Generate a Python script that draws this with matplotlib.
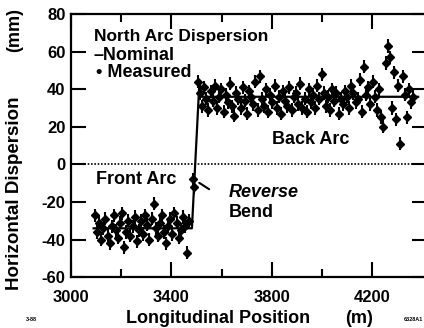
import matplotlib.pyplot as plt

plt.rcParams['font.family'] = ['Liberation Sans', 'DejaVu Sans']
plt.rcParams['font.weight'] = 'bold'
plt.rcParams['axes.unicode_minus'] = False

# === measured dispersion, front arc (m, mm) ===
front_s = [3096, 3104, 3112, 3121, 3129, 3137, 3146, 3154, 3162, 3171,
           3179, 3187, 3196, 3204, 3212, 3221, 3229, 3237, 3246, 3254,
           3262, 3271, 3279, 3287, 3296, 3304, 3312, 3321, 3329, 3337,
           3346, 3354, 3362, 3371, 3379, 3387, 3396, 3404, 3412, 3421,
           3429, 3437, 3446, 3454, 3462, 3470]
front_d = [-27, -36, -31, -40, -34, -29, -38, -42, -33, -27,
           -35, -39, -31, -26, -44, -36, -30, -38, -33, -28,
           -41, -35, -30, -37, -27, -32, -40, -29, -21, -34,
           -38, -31, -27, -36, -42, -33, -29, -37, -26, -31,
           -39, -35, -28, -33, -47, -30]

# reverse bend points
bend_s = [3486, 3491]
bend_d = [-8, -12]

# === back arc ===
back_s = [3506, 3514, 3523, 3531, 3540, 3548, 3557, 3565, 3574, 3582,
          3591, 3599, 3608, 3616, 3625, 3633, 3642, 3650, 3659, 3667,
          3676, 3684, 3693, 3701, 3710, 3718, 3727, 3735, 3744, 3752,
          3761, 3769, 3778, 3786, 3795, 3803, 3812, 3820, 3829, 3837,
          3846, 3854, 3863, 3871, 3880, 3888, 3897, 3905, 3914, 3922,
          3931, 3939, 3948, 3956, 3965, 3973, 3982, 3990, 3999, 4007,
          4016, 4024, 4033, 4041, 4050, 4058, 4067, 4075, 4084, 4092,
          4101, 4109, 4118, 4126, 4135, 4143, 4152, 4160, 4169, 4177,
          4186, 4194, 4203, 4211, 4220, 4228, 4237, 4245, 4254, 4262,
          4271, 4279, 4288, 4296, 4305, 4313, 4322, 4330, 4339, 4347,
          4356, 4364]
back_d = [44, 38, 31, 41, 35, 29, 39, 34, 42, 30,
          36, 40, 28, 37, 33, 43, 31, 26, 38, 35,
          30, 41, 34, 27, 39, 36, 32, 44, 29, 47,
          35, 31, 40, 28, 37, 33, 42, 30, 36, 27,
          39, 34, 31, 41, 29, 36, 38, 32, 43, 30,
          35, 28, 40, 33, 37, 30, 42, 35, 48, 38,
          31, 36, 29, 40, 34, 38, 27, 35, 32, 39,
          36, 30, 42, 38, 33, 35, 45, 28, 52, 37,
          41, 32, 44, 36, 29, 40, 25, 20, 54, 63,
          57, 30, 49, 24, 42, 11, 47, 37, 25, 40,
          33, 36]
err = 3.5

# === nominal dispersion ===
nom_s = [3090, 3482, 3512, 3520, 4384]
nom_d = [-34, -34, 44, 36, 36]

fig = plt.figure(figsize=(4.24, 3.28), dpi=100)
ax = fig.add_axes([0.1675, 0.155, 0.84, 0.802])

ax.plot(nom_s, nom_d, color='black', lw=1.6)
for s, d in [(front_s, front_d), (bend_s, bend_d), (back_s, back_d)]:
    ax.errorbar(s, d, yerr=err, fmt='D', ms=4, color='black',
                elinewidth=1.5, capsize=0)
ax.axhline(0, color='black', ls=(0, (1, 1)), lw=1.2)

ax.set_xlim(3000, 4420)
ax.set_ylim(-60, 80)
ax.set_xticks([3000, 3400, 3800, 4200])
ax.set_xticks([3200, 3600, 4000], minor=True)
ax.set_yticks([-60, -40, -20, 0, 20, 40, 60, 80])
ax.tick_params(which='major', direction='in', length=11, width=1.5,
               top=True, right=True, labelsize=12)
ax.tick_params(which='minor', direction='in', length=6, width=1.5,
               top=True, right=True)
ax.tick_params(axis='x', pad=9)
ax.tick_params(axis='y', pad=4)
for sp in ax.spines.values():
    sp.set_linewidth(1.6)

ax.text(3092, 68, 'North Arc Dispersion', fontsize=12.5, va='center')
ax.text(3088, 58, '–Nominal', fontsize=13, va='center')
ax.text(3100, 49, '• Measured', fontsize=13, va='center')
ax.text(3802, 13.5, 'Back Arc', fontsize=13, va='center')
ax.text(3098, -8, 'Front Arc', fontsize=13, va='center')
ax.text(3630, -15, 'Reverse', fontsize=13, style='italic', va='center')
ax.text(3630, -25.5, 'Bend', fontsize=13, va='center')
ax.annotate('', xy=(3502, -9), xytext=(3560, -14),
            arrowprops=dict(arrowstyle='-', lw=1.5, color='black'))

fig.text(0.035, 0.41, 'Horizontal Dispersion', rotation=90, fontsize=13.5,
         ha='center', va='center')
fig.text(0.035, 0.91, '(mm)', rotation=90, fontsize=13, ha='center', va='center')
fig.text(0.515, 0.03, 'Longitudinal Position', fontsize=13, ha='center', va='center')
fig.text(0.848, 0.03, '(m)', fontsize=13, ha='center', va='center')
fig.text(0.075, 0.025, '3-88', fontsize=4, ha='center', va='center')
fig.text(0.975, 0.025, '6328A1', fontsize=4, ha='center', va='center')

plt.savefig('out.png', dpi=100)
